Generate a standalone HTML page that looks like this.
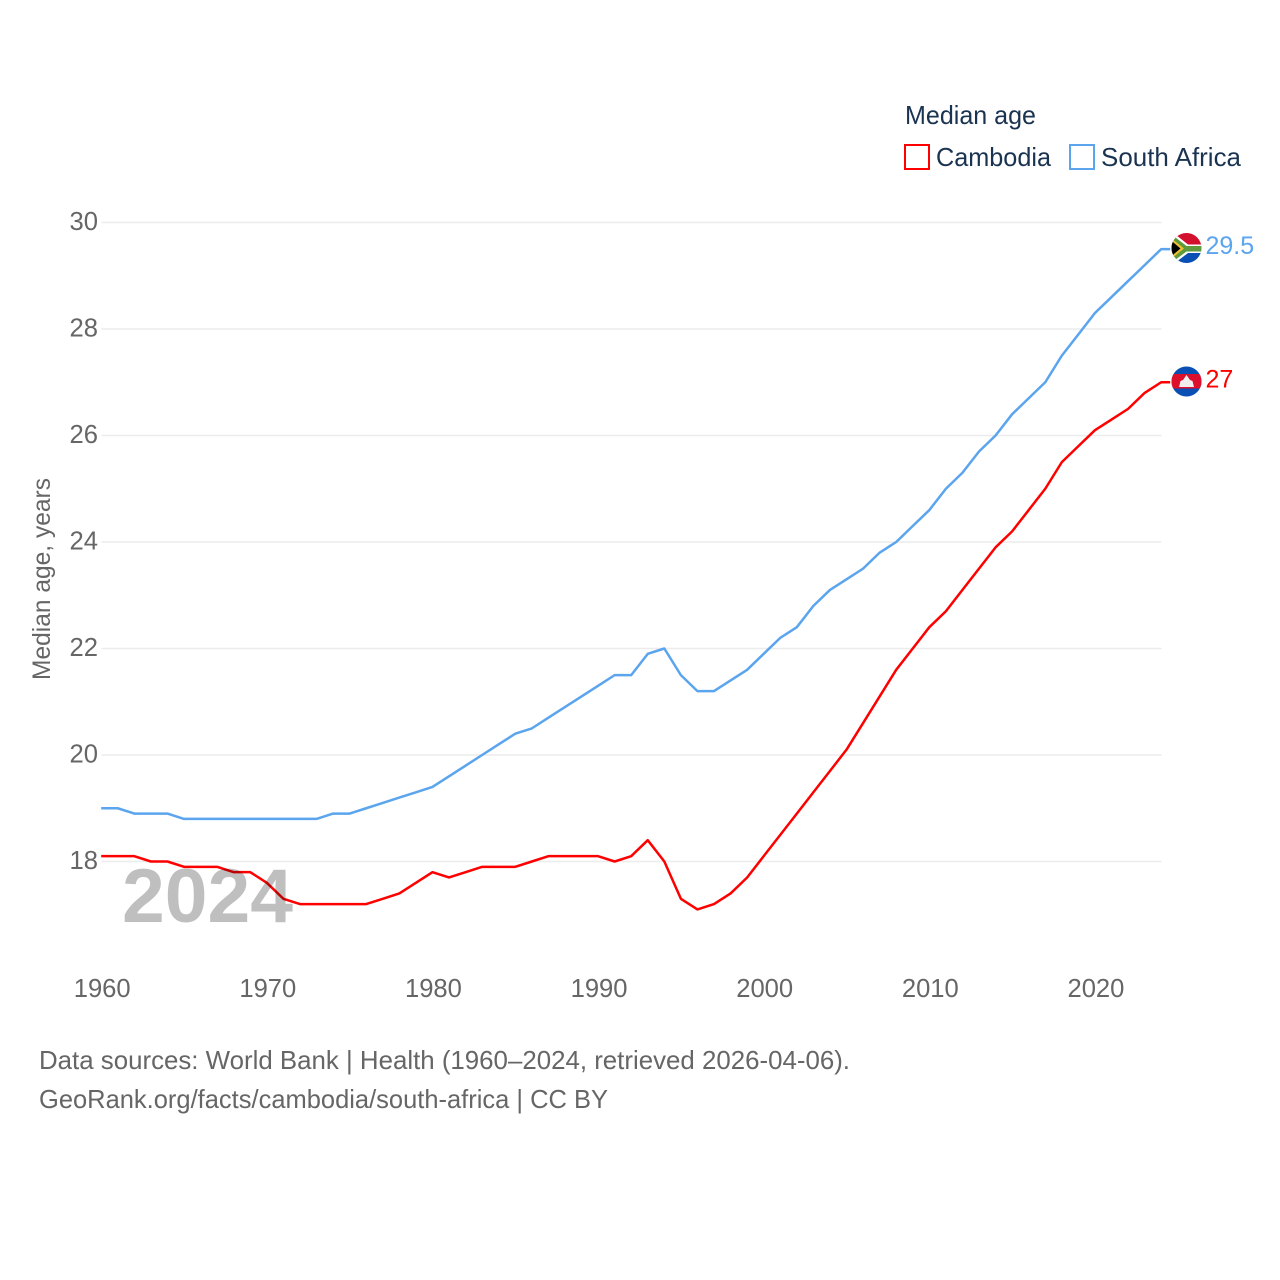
<!DOCTYPE html>
<html lang="en">
<head>
<meta charset="utf-8">
<title>Median age: Cambodia and South Africa</title>
<style>
html,body{margin:0;padding:0;background:#fff;}
svg{display:block;font-family:"Liberation Sans",sans-serif;}
</style>
</head>
<body>
<svg id="chart" width="1280" height="1280" viewBox="0 0 1280 1280" xmlns="http://www.w3.org/2000/svg">
  <defs>
    <clipPath id="clip-sa"><circle cx="1186.5" cy="248" r="15"/></clipPath>
    <clipPath id="clip-kh"><circle cx="1186.5" cy="381.5" r="15"/></clipPath>
  </defs>
  <rect x="0" y="0" width="1280" height="1280" fill="#fff"/>
  <g id="grid"></g>
  <g id="yticks"></g>
  <g id="xticks"></g>
  <text transform="translate(50,680) rotate(-90)" font-size="25" fill="#666" textLength="202" lengthAdjust="spacingAndGlyphs">Median age, years</text>
  <g id="series"></g>
  <text x="122" y="922" font-size="76" font-weight="700" fill="#000" fill-opacity="0.25" textLength="171" lengthAdjust="spacingAndGlyphs">2024</text>

  <g>
    <text x="905" y="124" font-size="26" fill="#1a3350" textLength="131" lengthAdjust="spacingAndGlyphs">Median age</text>
    <g>
      <rect x="905" y="145" width="24" height="24" fill="none" stroke="#ff0000" stroke-width="2"/>
      <text x="936" y="166" font-size="26" fill="#1a3350" textLength="115" lengthAdjust="spacingAndGlyphs">Cambodia</text>
    </g>
    <g>
      <rect x="1070" y="145" width="24" height="24" fill="none" stroke="#5ba4ee" stroke-width="2"/>
      <text x="1101" y="166" font-size="26" fill="#1a3350" textLength="140" lengthAdjust="spacingAndGlyphs">South Africa</text>
    </g>
  </g>

  <g clip-path="url(#clip-sa)">
    <rect x="1171" y="233" width="31" height="15" fill="#d3112f"/>
    <rect x="1171" y="248" width="31" height="15" fill="#0a4fb4"/>
    <path d="M1171 231 L1188 244.500 H1202 V253 H1188 L1171 266 Z" fill="#fff"/>
    <path d="M1171 234 L1186.500 246 H1202 V251.500 H1186.500 L1171 263 Z" fill="#5f9a3c"/>
    <path d="M1171 238 L1184 248.500 L1171 259 Z" fill="#f2c22e"/>
    <path d="M1171 240.500 L1180.500 248.500 L1171 256.500 Z" fill="#000"/>
  </g>
  <g clip-path="url(#clip-kh)">
    <rect x="1171" y="366" width="31" height="31" fill="#0a4fb4"/>
    <rect x="1171" y="374" width="31" height="14.500" fill="#dc0f2d"/>
    <path d="M1179 387 L1180.500 381 L1183 380 L1186.500 375 L1190 380 L1192.500 381 L1194 387 Z" fill="#f2eeee"/>
  </g>

  <text x="39" y="1069" font-size="25.6" fill="#666" textLength="811" lengthAdjust="spacingAndGlyphs">Data sources: World Bank | Health (1960–2024, retrieved 2026-04-06).</text>
  <text x="39" y="1108" font-size="25.6" fill="#666" textLength="569" lengthAdjust="spacingAndGlyphs">GeoRank.org/facts/cambodia/south-africa | CC BY</text>
</svg>
<script>
const years = [1960,1961,1962,1963,1964,1965,1966,1967,1968,1969,1970,1971,1972,1973,1974,1975,1976,1977,1978,1979,1980,1981,1982,1983,1984,1985,1986,1987,1988,1989,1990,1991,1992,1993,1994,1995,1996,1997,1998,1999,2000,2001,2002,2003,2004,2005,2006,2007,2008,2009,2010,2011,2012,2013,2014,2015,2016,2017,2018,2019,2020,2021,2022,2023,2024];
const cambodia = [18.1,18.1,18.1,18.0,18.0,17.9,17.9,17.9,17.8,17.8,17.6,17.3,17.2,17.2,17.2,17.2,17.2,17.3,17.4,17.6,17.8,17.7,17.8,17.9,17.9,17.9,18.0,18.1,18.1,18.1,18.1,18.0,18.1,18.4,18.0,17.3,17.1,17.2,17.4,17.7,18.1,18.5,18.9,19.3,19.7,20.1,20.6,21.1,21.6,22.0,22.4,22.7,23.1,23.5,23.9,24.2,24.6,25.0,25.5,25.8,26.1,26.3,26.5,26.8,27.0];
const southAfrica = [19.0,19.0,18.9,18.9,18.9,18.8,18.8,18.8,18.8,18.8,18.8,18.8,18.8,18.8,18.9,18.9,19.0,19.1,19.2,19.3,19.4,19.6,19.8,20.0,20.2,20.4,20.5,20.7,20.9,21.1,21.3,21.5,21.5,21.9,22.0,21.5,21.2,21.2,21.4,21.6,21.9,22.2,22.4,22.8,23.1,23.3,23.5,23.8,24.0,24.3,24.6,25.0,25.3,25.7,26.0,26.4,26.7,27.0,27.5,27.9,28.3,28.6,28.9,29.2,29.5];
const yTickValues = [18,20,22,24,26,28,30];
const xTickValues = [1960,1970,1980,1990,2000,2010,2020];
const RED = '#ff0000';
const BLUE = '#5ba4ee';
const NS = 'http://www.w3.org/2000/svg';

function xScale(year){ return 101.2 + (year - 1960) * (1060 / 64); }
function yScale(v){ return 222.5 + (30 - v) * 53.25; }

function make(tag, attrs, parent, text){
  const el = document.createElementNS(NS, tag);
  for (const k in attrs) el.setAttribute(k, attrs[k]);
  if (text !== undefined) el.textContent = text;
  parent.appendChild(el);
  return el;
}

const grid = document.getElementById('grid');
const yticks = document.getElementById('yticks');
const xticks = document.getElementById('xticks');
const seriesGroup = document.getElementById('series');

yTickValues.forEach(function(v){
  const line = make('line', {x1:101.5, x2:1161.5, y1:yScale(v), y2:yScale(v), stroke:'#ececec', 'stroke-width':1.5}, grid);
  
  
  const label = make('text', {x:98, y:yScale(v) + 7.5, 'text-anchor':'end', 'font-size':25.6, fill:'#666'}, yticks, String(v));
  
  
});

xTickValues.forEach(function(y){
  const label = make('text', {x:xScale(y) + 1, y:997, 'text-anchor':'middle', 'font-size':25.6, fill:'#666'}, xticks, String(y));
  
  
});

function drawSeries(name, values, color){
  const pts = values.map(function(v, i){ return xScale(years[i]).toFixed(2) + ',' + yScale(v).toFixed(2); });
  const last = values[values.length - 1];
  pts.push((xScale(years[years.length - 1]) + 9).toFixed(2) + ',' + yScale(last).toFixed(2));
  const line = make('polyline', {points:pts.join(' '), fill:'none', stroke:color, 'stroke-width':2.5, 'stroke-linejoin':'round'}, seriesGroup);
  
  
  const label = make('text', {x:1205.5, y:yScale(last) + 5, 'font-size':25, fill:color}, seriesGroup, String(last));
  
  
}
drawSeries('cambodia', cambodia, RED);
drawSeries('south-africa', southAfrica, BLUE);
</script>
</body>
</html>
